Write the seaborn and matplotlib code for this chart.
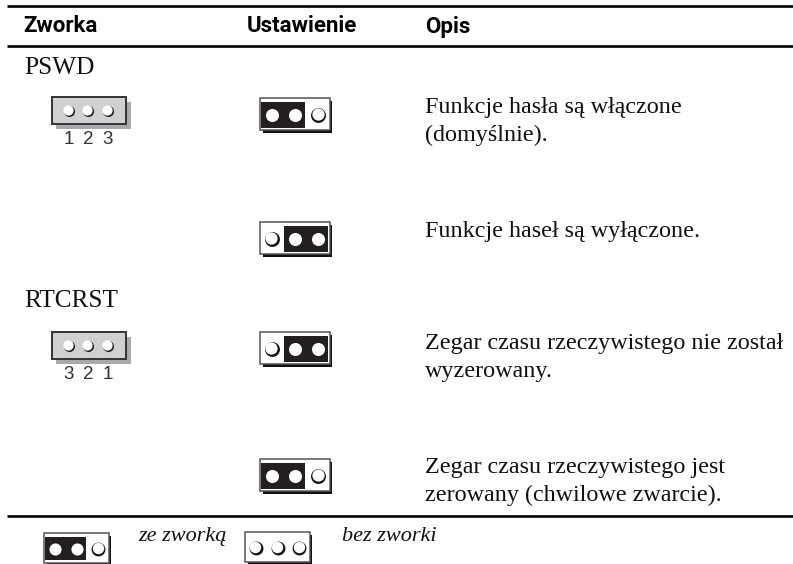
import pandas as pd
import seaborn as sns
import matplotlib.pyplot as plt
from matplotlib.patches import Rectangle

# Table content
headers = ['Zworka', 'Ustawienie', 'Opis']
groups = ['PSWD', 'RTCRST']
pin_labels = [['1', '2', '3'], ['3', '2', '1']]
descriptions = [
    'Funkcje hasła są włączone\n(domyślnie).',
    'Funkcje haseł są wyłączone.',
    'Zegar czasu rzeczywistego nie został\nwyzerowany.',
    'Zegar czasu rzeczywistego jest\nzerowany (chwilowe zwarcie).',
]
# which pins the jumper covers in every row
row_states = ['left', 'right', 'right', 'left']
legend_labels = ['ze zworką', 'bez zworki']

sns.set_theme(style='white')
serif = ['Liberation Serif', 'DejaVu Serif']
bold = ['Roboto', 'DejaVu Sans']
sans = ['Liberation Sans', 'DejaVu Sans']

fig, ax = plt.subplots(figsize=(7.93, 5.64), dpi=100)
fig.subplots_adjust(0, 0, 1, 1)
ax.set_xlim(0, 793)
ax.set_ylim(564, 0)
ax.axis('off')


def draw_pins(xs, ys, open_pin, scale=1.0):
    df = pd.DataFrame({'x': xs, 'y': ys})
    k = scale ** 2
    if open_pin:
        sns.scatterplot(data=df, x='x', y='y', ax=ax, s=115 * k, color='#111111', linewidth=0, zorder=5, legend=False)
        df['x'] = df['x'] - 0.3
        df['y'] = df['y'] - 0.9
        sns.scatterplot(data=df, x='x', y='y', ax=ax, s=78 * k, color='white', linewidth=0, zorder=6, legend=False)
    else:
        sns.scatterplot(data=df, x='x', y='y', ax=ax, s=88 * k, color='white', linewidth=0, zorder=6, legend=False)


def draw_jumper(x, y, state, scale=1.0):
    w, h = 69.5 * scale, 32 * scale
    ax.add_patch(Rectangle((x + 2.5, y + 3), w, h, fc='#111111', ec='none', zorder=1))
    ax.add_patch(Rectangle((x, y), w, h, fc='white', ec='#555555', lw=1.1, zorder=2))
    cy = y + 16.8 * scale
    centers = [x + 11.5 * scale, x + 35 * scale, x + 58 * scale]
    top, bw, bh = y + 4 * scale, 44 * scale, 25.5 * scale
    if state == 'left':
        ax.add_patch(Rectangle((x + scale, top), bw, bh, fc='#231f20', ec='none', zorder=3))
        draw_pins(centers[:2], [cy, cy], False, scale)
        draw_pins(centers[2:], [cy], True, scale)
    elif state == 'right':
        ax.add_patch(Rectangle((x + 24 * scale, top), bw, bh, fc='#231f20', ec='none', zorder=3))
        draw_pins(centers[1:], [cy, cy], False, scale)
        draw_pins(centers[:1], [cy], True, scale)
    else:
        draw_pins(centers, [cy, cy, cy], True, scale)


def draw_connector(y, labels):
    ax.add_patch(Rectangle((55.5, y + 4.5), 75.5, 27, fc='#a9aaad', ec='none', zorder=1))
    ax.add_patch(Rectangle((51.5, y), 74.5, 26.5, fc='#cfd0d2', ec='#333333', lw=1.4, zorder=2))
    xs = [68.5, 88, 107.5]
    cy = y + 14
    df = pd.DataFrame({'x': xs, 'y': [cy] * 3})
    sns.scatterplot(data=df, x='x', y='y', ax=ax, s=64, color='#222222', linewidth=0, zorder=3, legend=False)
    df['x'] = df['x'] - 0.6
    df['y'] = df['y'] - 0.8
    sns.scatterplot(data=df, x='x', y='y', ax=ax, s=54, color='white', linewidth=0, zorder=4, legend=False)
    for lx, lab in zip(xs, labels):
        ax.text(lx, y + 47, lab, family=sans, fontsize=13.5, color='#333333', ha='center', va='baseline')


# rules
for y, lw in [(5.5, 1.9), (45.5, 1.9), (516, 1.9)]:
    ax.plot([7, 793], [y, y], color='black', lw=lw, solid_capstyle='butt')

# header
for x, lab in zip([23, 247, 425], headers):
    ax.text(x, 32.5, lab, family=bold, weight='bold', fontsize=16, color='black', va='baseline')

# groups
for y, lab in zip([74, 307], groups):
    ax.text(24, y, lab, family=serif, fontsize=18.2, color='#111111', va='baseline')
for y, labs in zip([97, 332], pin_labels):
    draw_connector(y, labs)

# rows
for y, state in zip([98, 222, 332, 459], row_states):
    draw_jumper(260, y, state)
for y, text in zip([113, 237, 349, 473], descriptions):
    for i, line in enumerate(text.split('\n')):
        ax.text(425, y + 28.5 * i, line, family=serif, fontsize=17.4, color='#111111', va='baseline')

# legend under the table, bottom edge is cut by the page
draw_jumper(44, 533, 'left', scale=0.93)
draw_jumper(245, 532, 'open', scale=0.93)
for x, lab in zip([138, 342], legend_labels):
    ax.text(x, 541, lab, family=serif, style='italic', fontsize=16, color='#111111', va='baseline')

ax.set_xlim(0, 793)
ax.set_ylim(564, 0)
fig.savefig('out.png', dpi=100)
